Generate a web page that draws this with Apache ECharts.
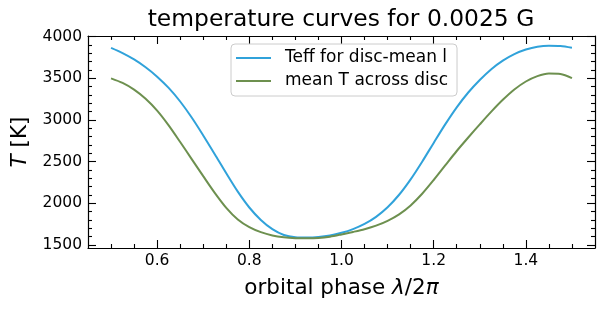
<!DOCTYPE html>
<html><head><meta charset="utf-8">
<script src="https://cdn.jsdelivr.net/npm/echarts@6/dist/echarts.min.js"></script>
<style>html,body{margin:0;padding:0;background:#fff}#c{width:604px;height:311px}</style>
</head><body><div id="c"></div>
<script>
const titleText = 'temperature curves for 0.0025 G';
const seriesNames = ['Teff for disc-mean l', 'mean T across disc'];
const phase = [0.50,0.525,0.55,0.575,0.60,0.625,0.65,0.675,0.70,0.725,0.75,0.775,0.80,0.825,0.85,0.875,0.90,0.925,0.95,0.975,1.00,1.025,1.05,1.075,1.10,1.125,1.15,1.175,1.20,1.225,1.25,1.275,1.30,1.325,1.35,1.375,1.40,1.425,1.45,1.475,1.50];
const teffDiscMeanL = [3865,3803,3727,3633,3520,3385,3222,3030,2815,2590,2360,2140,1950,1800,1690,1620,1594,1590,1596,1614,1646,1691,1753,1838,1953,2103,2288,2500,2725,2947,3152,3330,3480,3610,3713,3791,3846,3880,3892,3889,3867];
const meanTAcrossDisc = [3500,3445,3365,3255,3113,2936,2736,2531,2326,2126,1946,1806,1714,1654,1614,1592,1582,1580,1584,1600,1627,1657,1690,1732,1790,1868,1975,2115,2280,2455,2628,2790,2947,3100,3242,3366,3462,3527,3558,3553,3502];
const xTicks = [0.6,0.8,1.0,1.2,1.4];
const xMinorTicks = [0.5,0.55,0.65,0.7,0.75,0.85,0.9,0.95,1.05,1.1,1.15,1.25,1.3,1.35,1.45,1.5];
const yTicks = [1500,2000,2500,3000,3500,4000];
const yMinorTicks = [1600,1700,1800,1900,2100,2200,2300,2400,2600,2700,2800,2900,3100,3200,3300,3400,3600,3700,3800,3900];

const XMIN = 0.45, XMAX = 1.55, YMIN = 1464, YMAX = 4008;
const FONT = 'DejaVu Sans';
const blue = '#30a2da', green = '#6d904f';

function xAx(pos, ticks, len, labels, line, extra) {
  return Object.assign({
    type: 'value', position: pos, min: XMIN, max: XMAX,
    axisLine: { show: line, onZero: false, lineStyle: { color: '#000', width: 1.2 } },
    axisTick: { show: true, inside: true, length: len, customValues: ticks, lineStyle: { color: '#000', width: 1.1 } },
    axisLabel: { show: labels, customValues: ticks, margin: 5, color: '#000', fontFamily: FONT, fontSize: 15.5,
      formatter: v => v.toFixed(1) },
    splitLine: { show: false }
  }, extra || {});
}
function yAx(pos, ticks, len, labels, line, extra) {
  return Object.assign({
    type: 'value', position: pos, min: YMIN, max: YMAX,
    axisLine: { show: line, onZero: false, lineStyle: { color: '#000', width: 1.2 } },
    axisTick: { show: true, inside: true, length: len, customValues: ticks, lineStyle: { color: '#000', width: 1.1 } },
    axisLabel: { show: labels, customValues: ticks, margin: 6, color: '#000', fontFamily: FONT, fontSize: 15.5,
      formatter: v => String(v) },
    splitLine: { show: false }
  }, extra || {});
}
const NAMEFS = 21.5;
const nameRich = {
  i: { fontFamily: FONT, fontStyle: 'italic', fontSize: NAMEFS, color: '#000' },
  n: { fontFamily: FONT, fontSize: NAMEFS, color: '#000' }
};

const chart = echarts.init(document.getElementById('c'), null, { renderer: 'canvas' });
chart.setOption({
  animation: false,
  backgroundColor: '#fff',
  title: {
    text: titleText, left: 341, textAlign: 'center', top: 8, padding: 0,
    textStyle: { fontFamily: FONT, fontSize: 23.4, fontWeight: 'normal', color: '#000' }
  },
  grid: { left: 88, right: 9, top: 36, bottom: 63, containLabel: false },
  legend: {
    orient: 'vertical', left: 231, top: 44,
    data: seriesNames,
    icon: 'rect', itemWidth: 35, itemHeight: 2, itemGap: 5,
    backgroundColor: 'rgba(255,255,255,0.8)', borderColor: '#cccccc', borderWidth: 1, borderRadius: 4,
    padding: [5, 9, 6, 5],
    textStyle: { fontFamily: FONT, fontSize: 17, color: '#000', lineHeight: 18, padding: [0, 0, 0, 9] }
  },
  xAxis: [
    xAx('bottom', xTicks, 8, true, true, {
      name: '{n|orbital phase }{i|λ}{n|/2}{i|π}', nameLocation: 'middle', nameGap: 29,
      nameTextStyle: { fontFamily: FONT, fontSize: NAMEFS, color: '#000', rich: nameRich }
    }),
    xAx('bottom', xMinorTicks, 4, false, false),
    xAx('top', xTicks, 8, false, true),
    xAx('top', xMinorTicks, 4, false, false)
  ],
  yAxis: [
    yAx('left', yTicks, 8, true, true, {
      name: '{i|T}{n| [K]}', nameLocation: 'middle', nameGap: 55, nameRotate: 90,
      nameTextStyle: { fontFamily: FONT, fontSize: NAMEFS, color: '#000', rich: nameRich }
    }),
    yAx('left', yMinorTicks, 4, false, false),
    yAx('right', yTicks, 8, false, true),
    yAx('right', yMinorTicks, 4, false, false)
  ],
  series: [
    { name: seriesNames[0], type: 'line', xAxisIndex: 0, yAxisIndex: 0, symbol: 'none', smooth: 0.3,
      lineStyle: { color: blue, width: 2 }, itemStyle: { color: blue },
      data: phase.map((p, i) => [p, teffDiscMeanL[i]]) },
    { name: seriesNames[1], type: 'line', xAxisIndex: 0, yAxisIndex: 0, symbol: 'none', smooth: 0.3,
      lineStyle: { color: green, width: 2 }, itemStyle: { color: green },
      data: phase.map((p, i) => [p, meanTAcrossDisc[i]]) }
  ]
});
</script></body></html>
